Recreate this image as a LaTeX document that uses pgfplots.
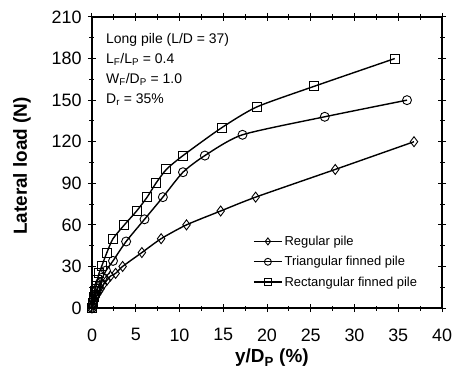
\documentclass[border=0pt]{standalone}
\usepackage{pgfplots}
\pgfplotsset{compat=1.18}
\usepackage{fontspec}
\setmainfont{Liberation Sans}
\begin{document}
\begin{tikzpicture}
\path[use as bounding box] (-92bp,-71bp) rectangle (382bp,308bp);
\begin{axis}[
  at={(0,0)}, anchor=south west,
  scale only axis, width=350bp, height=291bp,
  xmin=0, xmax=40, ymin=0, ymax=210,
  xtick={0,5,...,40}, ytick={0,30,...,210},
  minor xtick={2.5,7.5,...,37.5}, minor ytick={15,45,...,195},
  tick align=center,
  major tick length=8bp, minor tick length=5bp,
  every tick/.style={black, line width=1bp},
  axis line style={line width=1.6bp},
  /pgf/number format/assume math mode=true,
  tick label style={font=\fontsize{18}{20}\selectfont},
  xticklabel style={yshift=-13bp},
  yticklabel style={xshift=-3bp},
  xlabel={\textbf{y/D\textsubscript{P} (\%)}},
  ylabel={\textbf{Lateral load (N)}},
  label style={font=\fontsize{19}{21}\selectfont},
  xlabel style={at={(axis description cs:0.514,-0.172)}, anchor=center},
  ylabel style={at={(axis description cs:-0.2,0.488)}, anchor=center},
  legend style={draw=none, fill=none, at={(axis description cs:0.46,0.255)}, anchor=north west,
    font=\fontsize{13}{15}\selectfont, row sep=5.5bp, inner sep=0pt},
  legend cell align=left,
  legend image code/.code={\draw[mark repeat=2,mark phase=2,mark size=3.5bp] plot coordinates {(0bp,0bp)(14bp,0bp)(28bp,0bp)};},
]
\addplot[black, line width=1.4bp, smooth, tension=0.4, mark=diamond, mark size=5bp, mark options={solid, fill=white, line width=0.9bp}] coordinates {
(0,0)(0.1,2)(0.2,4)(0.3,6)(0.45,8)(0.6,10)(0.8,12)(1.0,14)(1.3,17)(1.7,20)(2.1,23)(2.7,25)(3.5,30)(5.7,40)(7.9,50)(10.8,60)(14.7,70)(18.7,80)(27.8,100)(36.8,120)};
\addlegendentry{Regular pile}
\addplot[black, line width=1.4bp, smooth, tension=0.4, mark=o, mark size=4.5bp, mark options={solid, fill=white, line width=0.9bp}] coordinates {
(0,0)(0.1,3)(0.2,6)(0.35,9)(0.5,12)(0.7,15)(0.9,18)(1.2,22)(1.6,27)(2.4,34)(3.9,48)(6.0,64)(8.1,80)(10.4,98)(12.9,110)(17.2,125)(26.6,138)(36,150)};
\addlegendentry{Triangular finned pile}
\addplot[black, line width=1.4bp, smooth, tension=0.4, mark=square, mark size=4.5bp, mark options={solid, fill=white, line width=0.9bp}] coordinates {
(0,0)(0.1,4)(0.2,8)(0.3,12)(0.45,16)(0.6,20)(0.8,25)(1.1,30)(1.7,40)(2.4,50)(3.7,60)(5.1,70)(6.3,80)(7.3,90)(8.5,100)(10.4,110)(14.8,130)(18.8,145)(25.4,160)(34.6,180)};
\addlegendentry{Rectangular finned pile}
\begin{scope}[font=\fontsize{14}{16}\selectfont]
\node[anchor=base west, inner sep=0pt] at (axis description cs:0.04,0.910) {Long pile (L/D = 37)};
\node[anchor=base west, inner sep=0pt] at (axis description cs:0.04,0.841) {L\textsubscript{F}/L\textsubscript{P} = 0.4};
\node[anchor=base west, inner sep=0pt] at (axis description cs:0.04,0.772) {W\textsubscript{F}/D\textsubscript{P} = 1.0};
\node[anchor=base west, inner sep=0pt] at (axis description cs:0.04,0.704) {D\textsubscript{r} = 35\%};
\end{scope}
\end{axis}
\end{tikzpicture}
\end{document}
